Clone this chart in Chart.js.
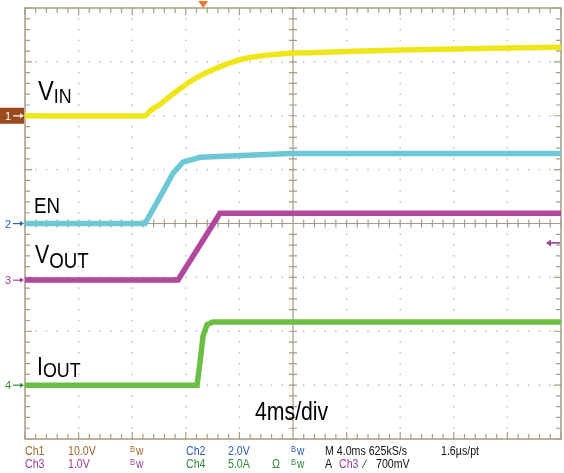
<!DOCTYPE html>
<html>
<head>
<meta charset="utf-8">
<script src="https://cdn.jsdelivr.net/npm/chart.js@4.4.1/dist/chart.umd.min.js"></script>
<style>
  html, body { margin: 0; padding: 0; background: #fff; }
  #wrap { width: 564px; height: 473px; }
</style>
</head>
<body>
<div id="wrap"><canvas id="scope" width="564" height="473"></canvas></div>
<script>
// time base: 10 divisions at 4 ms/div
const timeMin = 0, timeMax = 40;
const divMin = -4, divMax = 4;

// trace values (x in ms, y in screen divisions from centre)
const vinTime  = [0, 8.96, 9.33, 10.07, 10.82, 11.57, 12.31, 13.06, 13.81, 14.55, 15.30, 16.04, 16.79, 17.54, 18.28, 19.78, 21.27, 28, 34, 40];
const vinLevel = [2.0, 2.0, 2.09, 2.21, 2.36, 2.5, 2.63, 2.74, 2.83, 2.91, 2.98, 3.04, 3.08, 3.11, 3.13, 3.16, 3.17, 3.22, 3.25, 3.27];

const enTime  = [0, 8.96, 10.07, 11.04, 11.79, 13.06, 19.8, 40];
const enLevel = [0, 0, 0.49, 0.93, 1.14, 1.23, 1.30, 1.30];

const voutTime  = [0, 11.42, 14.55, 40];
const voutLevel = [-1.05, -1.05, 0.19, 0.19];

const ioutTime  = [0, 12.84, 13.06, 13.28, 13.58, 14.0, 40];
const ioutLevel = [-3.0, -3.0, -2.58, -2.10, -1.88, -1.83, -1.83];

// channel ground markers (divisions) and trigger
const chNames   = ['1', '2', '3', '4'];
const chOffsets = [2.0, 0, -1.05, -3.0];
const triggerTime = 13.3;
const triggerLevel = -0.36;

const yellowColor = '#eee619',
  cyanColor = '#6cc7d7',
  magentaColor = '#b2489d',
  greenColor = '#6cbf45',
  gridColor = '#a69d82',
  dotColor = '#bdbdbd';

const chColors = ['#9a4a1c', '#2c62a8', '#9b3f92', '#2f8a3a'];
const ch1Text = '#9c6a2a';

const sans = '"Liberation Sans", Arial, sans-serif';
const squeeze = 0.85;   // condensed look of the scope font

function toPoints(xs, ys) {
  return xs.map((x, i) => ({ x: x, y: ys[i] }));
}

// draw text horizontally squeezed, returns drawn width
function narrowText(ctx, txt, x, y, size, col) {
  ctx.save();
  ctx.font = size + 'px ' + sans;
  if (col) ctx.fillStyle = col;
  ctx.translate(x, y);
  ctx.scale(squeeze, 1);
  ctx.fillText(txt, 0, 0);
  const w = ctx.measureText(txt).width * squeeze;
  ctx.restore();
  return w;
}

// scope graticule drawn from the chart scales
const graticule = {
  id: 'graticule',
  beforeDatasetsDraw(chart) {
    const ctx = chart.ctx, xs = chart.scales.x, ys = chart.scales.y;
    const ca = chart.chartArea;
    const xDiv = (timeMax - timeMin) / 10;
    ctx.save();
    // dotted division lines
    ctx.fillStyle = dotColor;
    for (let i = 1; i < 10; i++) {
      if (i === 5) continue;
      const px = xs.getPixelForValue(timeMin + i * xDiv);
      for (let v = divMin; v <= divMax + 0.001; v += 0.2) {
        ctx.fillRect(px - 0.75, ys.getPixelForValue(v) - 0.75, 1.5, 1.5);
      }
    }
    for (let j = divMin + 1; j < divMax; j++) {
      if (j === 0) continue;
      const py = ys.getPixelForValue(j);
      for (let t = timeMin; t <= timeMax + 0.001; t += xDiv / 5) {
        ctx.fillRect(xs.getPixelForValue(t) - 0.75, py - 0.75, 1.5, 1.5);
      }
    }
    // border and centre cross
    ctx.strokeStyle = gridColor;
    ctx.lineWidth = 1.5;
    ctx.strokeRect(ca.left, ca.top, ca.right - ca.left, ca.bottom - ca.top);
    const cx = xs.getPixelForValue((timeMin + timeMax) / 2);
    const cy = ys.getPixelForValue(0);
    ctx.lineWidth = 1.2;
    ctx.beginPath();
    ctx.moveTo(cx, ca.top); ctx.lineTo(cx, ca.bottom);
    ctx.moveTo(ca.left, cy); ctx.lineTo(ca.right, cy);
    // minor ticks
    let k = 0;
    for (let t = timeMin; t <= timeMax + 0.001; t += xDiv / 5, k++) {
      const px = xs.getPixelForValue(t);
      const len = (k % 5 === 0) ? 7 : 5;
      ctx.moveTo(px, ca.top); ctx.lineTo(px, ca.top + len);
      ctx.moveTo(px, ca.bottom); ctx.lineTo(px, ca.bottom - len);
      ctx.moveTo(px, cy - 4); ctx.lineTo(px, cy + 4);
    }
    k = 0;
    for (let v = divMin; v <= divMax + 0.001; v += 0.2, k++) {
      const py = ys.getPixelForValue(v);
      const len = (k % 5 === 0) ? 7 : 5;
      ctx.moveTo(ca.left, py); ctx.lineTo(ca.left + len, py);
      ctx.moveTo(ca.right, py); ctx.lineTo(ca.right - len, py);
      ctx.moveTo(cx - 4, py); ctx.lineTo(cx + 4, py);
    }
    ctx.stroke();
    ctx.restore();
  }
};

function subText(ctx, big, small, x, y, bigSize, smallSize, drop) {
  const w = narrowText(ctx, big, x, y, bigSize);
  narrowText(ctx, small, x + w, y + drop, smallSize);
}

// labels, channel markers and the readout line
const annotations = {
  id: 'annotations',
  afterDraw(chart) {
    const ctx = chart.ctx, xs = chart.scales.x, ys = chart.scales.y;
    const ca = chart.chartArea;
    ctx.save();
    ctx.fillStyle = '#000';
    ctx.textBaseline = 'alphabetic';
    subText(ctx, 'V', 'IN', 38, 100, 28, 21, 3);
    narrowText(ctx, 'EN', 34, 213, 22);
    subText(ctx, 'V', 'OUT', 35, 263, 25, 22, 5);
    subText(ctx, 'I', 'OUT', 37, 375, 25, 21, 2);
    narrowText(ctx, '4ms/div', 255, 420, 25);

    // channel ground markers
    chNames.forEach((n, i) => {
      const py = ys.getPixelForValue(chOffsets[i]);
      if (i === 0) {
        ctx.fillStyle = chColors[0];
        ctx.fillRect(0, py - 8, ca.left - 1, 16);
        ctx.fillStyle = '#fff';
      } else {
        ctx.fillStyle = chColors[i];
      }
      ctx.font = '11px ' + sans;
      ctx.textBaseline = 'middle';
      ctx.fillText(n, 5, py + 1);
      ctx.fillRect(13, py - 0.5, 8, 1.2);
      ctx.beginPath();
      ctx.moveTo(ca.left - 1, py);
      ctx.lineTo(ca.left - 5, py - 2.5);
      ctx.lineTo(ca.left - 5, py + 2.5);
      ctx.fill();
    });

    // trigger position and level
    const tx = xs.getPixelForValue(triggerTime);
    ctx.fillStyle = '#f07a30';
    ctx.beginPath();
    ctx.moveTo(tx - 5, 1); ctx.lineTo(tx + 5, 1); ctx.lineTo(tx, 8);
    ctx.fill();
    const ty = ys.getPixelForValue(triggerLevel);
    ctx.fillStyle = chColors[2];
    ctx.fillRect(ca.right - 12, ty - 0.8, 11, 1.6);
    ctx.beginPath();
    ctx.moveTo(ca.right - 15, ty); ctx.lineTo(ca.right - 10, ty - 3.5); ctx.lineTo(ca.right - 10, ty + 3.5);
    ctx.fill();

    // readout
    ctx.textBaseline = 'alphabetic';
    const row1 = 455, row2 = 468;
    const put = (txt, x, y, col, size) => narrowText(ctx, txt, x, y, size || 12.5, col);
    const bw = (x, y, col) => {
      put('B', x, y - 3, col, 9);
      put('w', x + 6, y, col, 12);
    };
    put('Ch1', 25, row1, ch1Text);
    put('10.0V', 68, row1, ch1Text);
    bw(130, row1, ch1Text);
    put('Ch2', 186, row1, chColors[1]);
    put('2.0V', 228, row1, chColors[1]);
    bw(291, row1, chColors[1]);
    put('M 4.0ms 625kS/s', 325, row1, '#111');
    put('1.6\u00b5s/pt', 441, row1, '#111');
    put('Ch3', 25, row2, chColors[2]);
    put('1.0V', 68, row2, chColors[2]);
    bw(130, row2, chColors[2]);
    put('Ch4', 186, row2, chColors[3]);
    put('5.0A', 228, row2, chColors[3]);
    put('\u03a9', 272, row2, chColors[3]);
    bw(291, row2, chColors[3]);
    put('A', 325, row2, '#111');
    put('Ch3', 339, row2, chColors[2]);
    put('\u2215', 364, row2, '#111');
    put('700mV', 376, row2, '#111');
    ctx.restore();
  }
};

const traceStyle = {
  pointRadius: 0,
  borderWidth: 5.5,
  fill: false,
  tension: 0
};

new Chart(document.getElementById('scope'), {
  type: 'line',
  data: {
    datasets: [
      Object.assign({ label: 'VIN', data: toPoints(vinTime, vinLevel), borderColor: yellowColor }, traceStyle, { tension: 0.2 }),
      Object.assign({ label: 'EN', data: toPoints(enTime, enLevel), borderColor: cyanColor }, traceStyle),
      Object.assign({ label: 'VOUT', data: toPoints(voutTime, voutLevel), borderColor: magentaColor }, traceStyle),
      Object.assign({ label: 'IOUT', data: toPoints(ioutTime, ioutLevel), borderColor: greenColor }, traceStyle)
    ]
  },
  options: {
    responsive: false,
    animation: false,
    events: [],
    layout: { padding: { left: 25, top: 8, right: 3, bottom: 34 } },
    plugins: { legend: { display: false }, tooltip: { enabled: false } },
    scales: {
      x: { type: 'linear', min: timeMin, max: timeMax, display: false },
      y: { type: 'linear', min: divMin, max: divMax, display: false }
    }
  },
  plugins: [graticule, annotations]
});
</script>
</body>
</html>
